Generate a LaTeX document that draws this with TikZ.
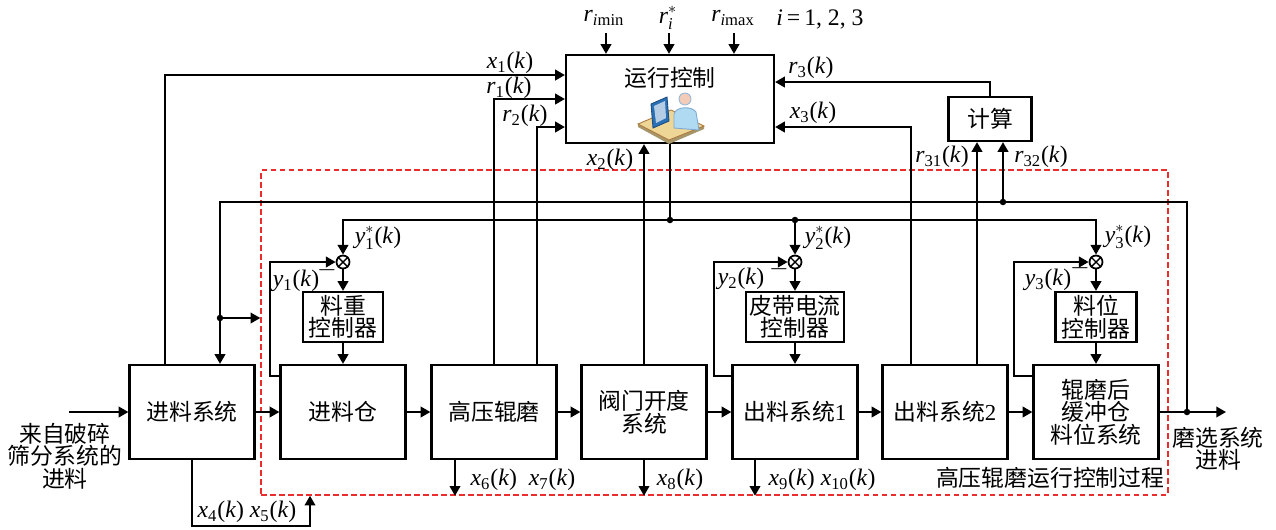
\documentclass[tikz,border=0pt]{standalone}
\usepackage{amsmath}
\usepackage{fontspec}
\setmainfont{Liberation Serif}
\newfontfamily\cjk{Noto Sans CJK SC}
\usetikzlibrary{arrows.meta, calc, positioning}
\definecolor{procRed}{RGB}{236,45,45}
\definecolor{deskTan}{RGB}{238,214,150}
\definecolor{deskEdge}{RGB}{172,122,62}
\definecolor{monBlue}{RGB}{42,112,182}
\definecolor{shirtBlue}{RGB}{176,218,242}
\definecolor{skinTone}{RGB}{242,204,184}
% signal names like x_1(k), set in the text serif
\newcommand{\sig}[2]{\textit{#1}\textsubscript{#2}(\textit{k})}
\newcommand{\sigref}[2]{\textit{#1}${}^{*}_{\text{#2}}$(\textit{k})}

\begin{document}
\begin{tikzpicture}[x=0.02cm, y=-0.02cm, >={Triangle[length=5.5pt,width=6pt]}, line width=1.1pt,
    zh/.style={font=\cjk\fontsize{13}{12.8}\selectfont, align=center, inner sep=1pt},
    lbl/.style={font=\fontsize{13.5}{15}\selectfont, inner sep=1pt},
    blk/.style={zh, draw, line width=1.3pt, minimum width=2.5cm, minimum height=1.88cm},
    ctl/.style={zh, draw, line width=1.3pt, minimum height=1cm, inner xsep=2pt},
    sum/.style={draw, circle, line width=1pt, minimum size=0.26cm, inner sep=0pt},
    dot/.style={circle, fill, inner sep=0pt, minimum size=0.13cm}]
    \useasboundingbox (0,0) rectangle (1276,529);

    % controlled process (dashed frame)
    \node[draw=procRed, dash pattern=on 0.11cm off 0.07cm, line width=0.9pt,
          minimum width=18.14cm, minimum height=6.5cm, inner sep=0pt] (proc) at (714.5,332.5) {};
    \node[zh, anchor=south east] (proclbl) at ([xshift=-0.03cm, yshift=0.1cm]proc.south east) {高压辊磨运行控制过程};

    % main chain
    \node[blk] (feed) at (192,412) {进料系统};
    \node[blk] (bin) at (343,412) {进料仓};
    \node[blk] (hpgr) at (494,412) {高压辊磨};
    \node[blk] (valve) at (644,412) {阀门开度\\系统};
    \node[blk] (out1) at (795,412) {出料系统{\rmfamily 1}};
    \node[blk] (out2) at (945,412) {出料系统{\rmfamily 2}};
    \node[blk] (buf) at (1096,412) {辊磨后\\缓冲仓\\料位系统};
    \foreach \a/\b in {feed/bin, bin/hpgr, hpgr/valve, valve/out1, out1/out2, out2/buf}
        \draw[->] (\a) -- (\b);

    \coordinate (src) at (69,412);
    \coordinate (sink) at (1226,412);
    \coordinate (tap) at (1187,412);
    \draw[->] (src) -- (feed);
    \draw[->] (buf) -- (sink);
    \node[zh] (srctxt) at (65,456) {来自破碎\\筛分系统的\\进料};
    \node[zh] (sinktxt) at (1218,449) {磨选系统\\进料};

    % local loops
    \node[ctl, minimum width=1.6cm] (ctl1) at (343,317) {料重\\控制器};
    \node[ctl, minimum width=1.9cm] (ctl2) at (795,317) {皮带电流\\控制器};
    \node[ctl, minimum width=1.62cm] (ctl3) at (1096,317) {料位\\控制器};
    \node[sum] (sum1) at (343,262) {};
    \node[sum] (sum2) at (795,262) {};
    \node[sum] (sum3) at (1096,262) {};
    \foreach \i/\tgt/\dx in {1/bin/-9, 2/out1/-17, 3/buf/-18} {
        \draw[line width=0.8pt] (sum\i.north east) -- (sum\i.south west)
                                (sum\i.north west) -- (sum\i.south east);
        \draw[->] ([yshift=-0.24cm]\tgt.north west) -- ++(\dx,0) |- (sum\i);
        \draw[->] (sum\i) -- (ctl\i);
        \draw[->] (ctl\i) -- (\tgt);
    }
    \node[lbl] (y1) at (296,281) {\sig{y}{1}};
    \node[lbl] (y2) at (741,279) {\sig{y}{2}};
    \node[lbl] (y3) at (1048,280) {\sig{y}{3}};
    \node[lbl] (m1) at (327,270) {$-$};
    \node[lbl] (m2) at (779,269) {$-$};
    \node[lbl] (m3) at (1080,268) {$-$};

    % operation controller
    \node[draw, line width=1.3pt, minimum width=4.16cm, minimum height=1.76cm] (run) at (670,99) {};
    \node[zh] (runtxt) at (670,78) {运行控制};
    \filldraw[fill=deskTan!70!black, draw=none] (638,124) -- (669,140) -- (704,126) -- (704,129) -- (669,144) -- (638,127) -- cycle;
    \filldraw[fill=deskTan, draw=deskEdge, line width=0.5pt] (638,124) -- (671,110) -- (704,126) -- (669,140) -- cycle;
    \filldraw[fill=monBlue, draw=monBlue!70!black, line width=0.5pt] (651,104) -- (667,97) -- (669,121) -- (653,128) -- cycle;
    \filldraw[fill=monBlue!35, draw=none] (654,106) -- (665,101) -- (666,118) -- (656,123) -- cycle;
    \filldraw[fill=shirtBlue, draw=monBlue!60, line width=0.5pt] (674,128) -- (674,114) .. controls (676,106) and (692,106) .. (696,112) -- (699,130) -- cycle;
    \filldraw[fill=skinTone, draw=monBlue!50, line width=0.5pt] (685,99) circle (6);

    \node[lbl] (rmin) at (604,18) {\textit{r}\textsubscript{\textit{i}min}};
    \node[lbl] (rstar) at (668,18) {\textit{r}${}^{*}_{\textit{i}}$};
    \node[lbl] (rmax) at (733,18) {\textit{r}\textsubscript{\textit{i}max}};
    \node[lbl] (idx) at (820,19) {\textit{i}\,=\,1, 2, 3};
    \coordinate (t1) at (606,33);
    \coordinate (t2) at (669,33);
    \coordinate (t3) at (734,33);
    \foreach \t in {t1, t2, t3}
        \draw[->] (\t) -- (\t |- run.north);

    % measurements to the controller
    \draw[->] ([xshift=-0.54cm]feed.north) |- ([yshift=0.48cm]run.west);
    \draw[->] (hpgr.north) |- (run.west);
    \draw[->] ([xshift=0.86cm]hpgr.north) |- ([yshift=-0.56cm]run.west);
    \draw[->] (valve) -- (valve |- run.south);
    \draw[->] ([xshift=-0.68cm]out2.north) |- ([yshift=-0.56cm]run.east);
    \node[lbl] (x1) at (510,63) {\sig{x}{1}};
    \node[lbl] (r1) at (509,88) {\sig{r}{1}};
    \node[lbl] (r2) at (525,116) {\sig{r}{2}};
    \node[lbl] (x2) at (610,160) {\sig{x}{2}};
    \node[lbl] (x3) at (813,113) {\sig{x}{3}};

    % level set point computation
    \node[zh, draw, line width=1.3pt, minimum width=1.66cm, minimum height=0.88cm] (comp) at (990,119) {计算};
    \draw[->] (comp) |- ([yshift=0.34cm]run.east);
    \draw[->] ([xshift=0.64cm]out2.north) -- ([xshift=-0.26cm]comp.south);
    \coordinate (r32b) at ([xshift=0.26cm]comp.south);
    \node[lbl] (r3) at (811,68) {\sig{r}{3}};
    \node[lbl] (r31) at (942,157) {\sig{r}{31}};
    \node[lbl] (r32) at (1041,157) {\sig{r}{32}};

    % outer feedback from the product stream
    \coordinate (fbR) at (1187,202);
    \coordinate (fbL) at (220,202);
    \coordinate (mid) at (220,318);
    \draw[->] (tap) -- (fbR) -- (fbL) -- (fbL |- feed.north);
    \draw[->] (mid) -- (mid -| proc.west);
    \draw[->] (r32b |- fbR) -- (r32b);
    \node[dot] (d1) at (tap) {};
    \node[dot] (d2) at (mid) {};
    \node[dot] (d3) at (r32b |- fbR) {};

    % set points
    \coordinate (sp) at (670,220);
    \draw (run) -- (sp);
    \draw[->] (sp) -| (sum1);
    \draw[->] (sp) -| (sum3);
    \draw[->] (sp -| sum2) -- (sum2);
    \node[dot] (d4) at (sp) {};
    \node[dot] (d5) at (sp -| sum2) {};
    \node[lbl] (ys1) at (378,238) {\sigref{y}{1}};
    \node[lbl] (ys2) at (828,238) {\sigref{y}{2}};
    \node[lbl] (ys3) at (1128,237) {\sigref{y}{3}};

    % disturbances / outputs
    \coordinate (x45) at (310,526);
    \coordinate (x67) at ([xshift=-0.78cm]hpgr.south);
    \coordinate (x910) at ([xshift=-0.8cm]out1.south);
    \draw[->] (feed.south) |- (x45) -- (x45 |- proc.south);
    \draw[->] (x67) -- (x67 |- proc.south);
    \draw[->] (valve) -- (valve |- proc.south);
    \draw[->] (x910) -- (x910 |- proc.south);
    \node[lbl] (x45l) at (247,512) {\sig{x}{4}\ \sig{x}{5}};
    \node[lbl] (x67l) at (523,480) {\sig{x}{6}\ \ \sig{x}{7}};
    \node[lbl] (x8l) at (680,480) {\sig{x}{8}};
    \node[lbl] (x910l) at (822,480) {\sig{x}{9}\ \sig{x}{10}};
\end{tikzpicture}
\end{document}
